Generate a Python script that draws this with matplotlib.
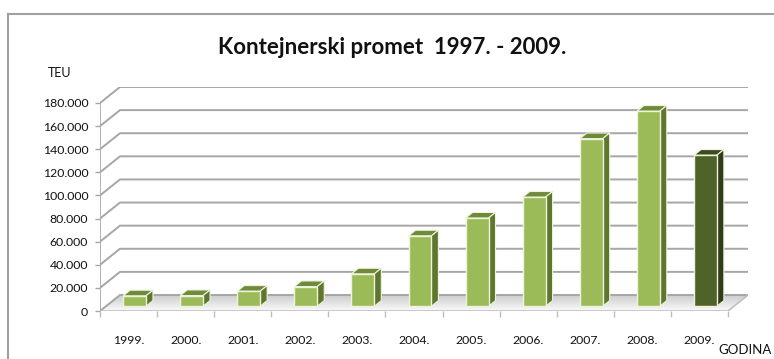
import numpy as np
import matplotlib
matplotlib.use('Agg')
import matplotlib.pyplot as plt
from matplotlib.patches import Polygon
from matplotlib.lines import Line2D

# Data
years = ['1999.', '2000.', '2001.', '2002.', '2003.', '2004.',
         '2005.', '2006.', '2007.', '2008.', '2009.']
teu = [9000, 9200, 13000, 17000, 28000, 60900,
       76300, 94400, 145000, 168800, 130700]
y_ticks = list(range(0, 180001, 20000))

plt.rcParams['font.family'] = ['Lato', 'DejaVu Sans']

fig = plt.figure(figsize=(7.74, 3.59), dpi=100)
ax = fig.add_axes([100 / 774, 48 / 359, 648 / 774, 224 / 359])

# depth of the 3D box, in data units
dx = 0.35
dy = 13846
n = len(years)
x = np.arange(n)
x_left, x_right = -0.5, n - 0.5

ax.set_xlim(x_left, x_right + dx)
ax.set_ylim(0, 180000 + dy)
for s in ax.spines.values():
    s.set_visible(False)

grid_c = '#a6a6a6'
# floor
floor = Polygon([(x_left, 0), (x_right, 0), (x_right + dx, dy), (x_left + dx, dy)],
                closed=True, facecolor='none', edgecolor='none', zorder=1)
ax.add_patch(floor)
grad = np.linspace(0.98, 0.80, 50).reshape(-1, 1)
im = ax.imshow(grad, cmap='gray', vmin=0, vmax=1, aspect='auto',
               extent=[x_left, x_right + dx, 0, dy], origin='lower', zorder=1)
im.set_clip_path(floor)

# gridlines on side wall and back wall
for v in y_ticks:
    ax.plot([x_left, x_left + dx, x_right + dx], [v, v + dy, v + dy],
            color=grid_c, lw=1.4, zorder=2, solid_capstyle='butt')
# front floor edge and axis line
ax.plot([x_left, x_right, x_right + dx], [0, 0, dy], color='#bfbfbf', lw=1.2, zorder=2)
ax.plot([x_left, x_left], [0, 180000], color=grid_c, lw=1.2, zorder=2)

# bars
f1, f2 = 0.30, 0.65
w = 0.40
for i, v in enumerate(teu):
    if i == n - 1:
        front, top, side = '#4f6228', '#3d4c1f', '#313d19'
    else:
        front, top, side = '#9bbb59', '#6f8a38', '#5e7630'
    xs0 = x[i] - w / 2
    xs1 = x[i] + w / 2
    ax.bar(x[i] + f1 * dx, v, width=w, bottom=f1 * dy, color=front,
           edgecolor='#eef3dc', linewidth=1.0, zorder=5)
    ax.add_patch(Polygon([(xs0 + f1 * dx, v + f1 * dy), (xs1 + f1 * dx, v + f1 * dy),
                          (xs1 + f2 * dx, v + f2 * dy), (xs0 + f2 * dx, v + f2 * dy)],
                         closed=True, facecolor=top, edgecolor='#eef3dc', lw=0.8, zorder=4))
    ax.add_patch(Polygon([(xs1 + f1 * dx, f1 * dy), (xs1 + f2 * dx, f2 * dy),
                          (xs1 + f2 * dx, v + f2 * dy), (xs1 + f1 * dx, v + f1 * dy)],
                         closed=True, facecolor=side, edgecolor='#eef3dc', lw=0.8, zorder=4))

# ticks
ax.set_yticks(y_ticks)
ax.set_yticklabels(['0' if v == 0 else '{:,}'.format(v).replace(',', '.') for v in y_ticks])
ax.tick_params(axis='y', length=3.5, width=1, color=grid_c, pad=5, labelsize=8.8,
               labelcolor='#111111')
ax.set_xticks(x)
ax.set_xticklabels(years)
ax.set_xticks(np.arange(x_left, x_right + 0.01, 1), minor=True)
ax.tick_params(axis='x', which='major', length=0, pad=17, labelsize=8.8,
               labelcolor='#111111')
ax.tick_params(axis='x', which='minor', length=4, width=1, color='#bfbfbf')

# texts
fig.text(0.507, 0.869, 'Kontejnerski promet  1997. - 2009.', ha='center', va='center',
         fontsize=16, fontweight='bold', color='#111111')
fig.text(0.0775, 0.797, 'TEU', ha='center', va='center', fontsize=9, color='#111111')
fig.text(0.9625, 0.008, 'GODINA', ha='center', va='bottom', fontsize=9.5, color='#111111')

# chart frame
fig.add_artist(Line2D([8 / 774, 8 / 774], [0, 1 - 14 / 359], color='#a0a0a0', lw=1.5))
fig.add_artist(Line2D([8 / 774, 1], [1 - 14 / 359, 1 - 14 / 359], color='#a0a0a0', lw=1.5))

fig.savefig('out.png', dpi=100)
